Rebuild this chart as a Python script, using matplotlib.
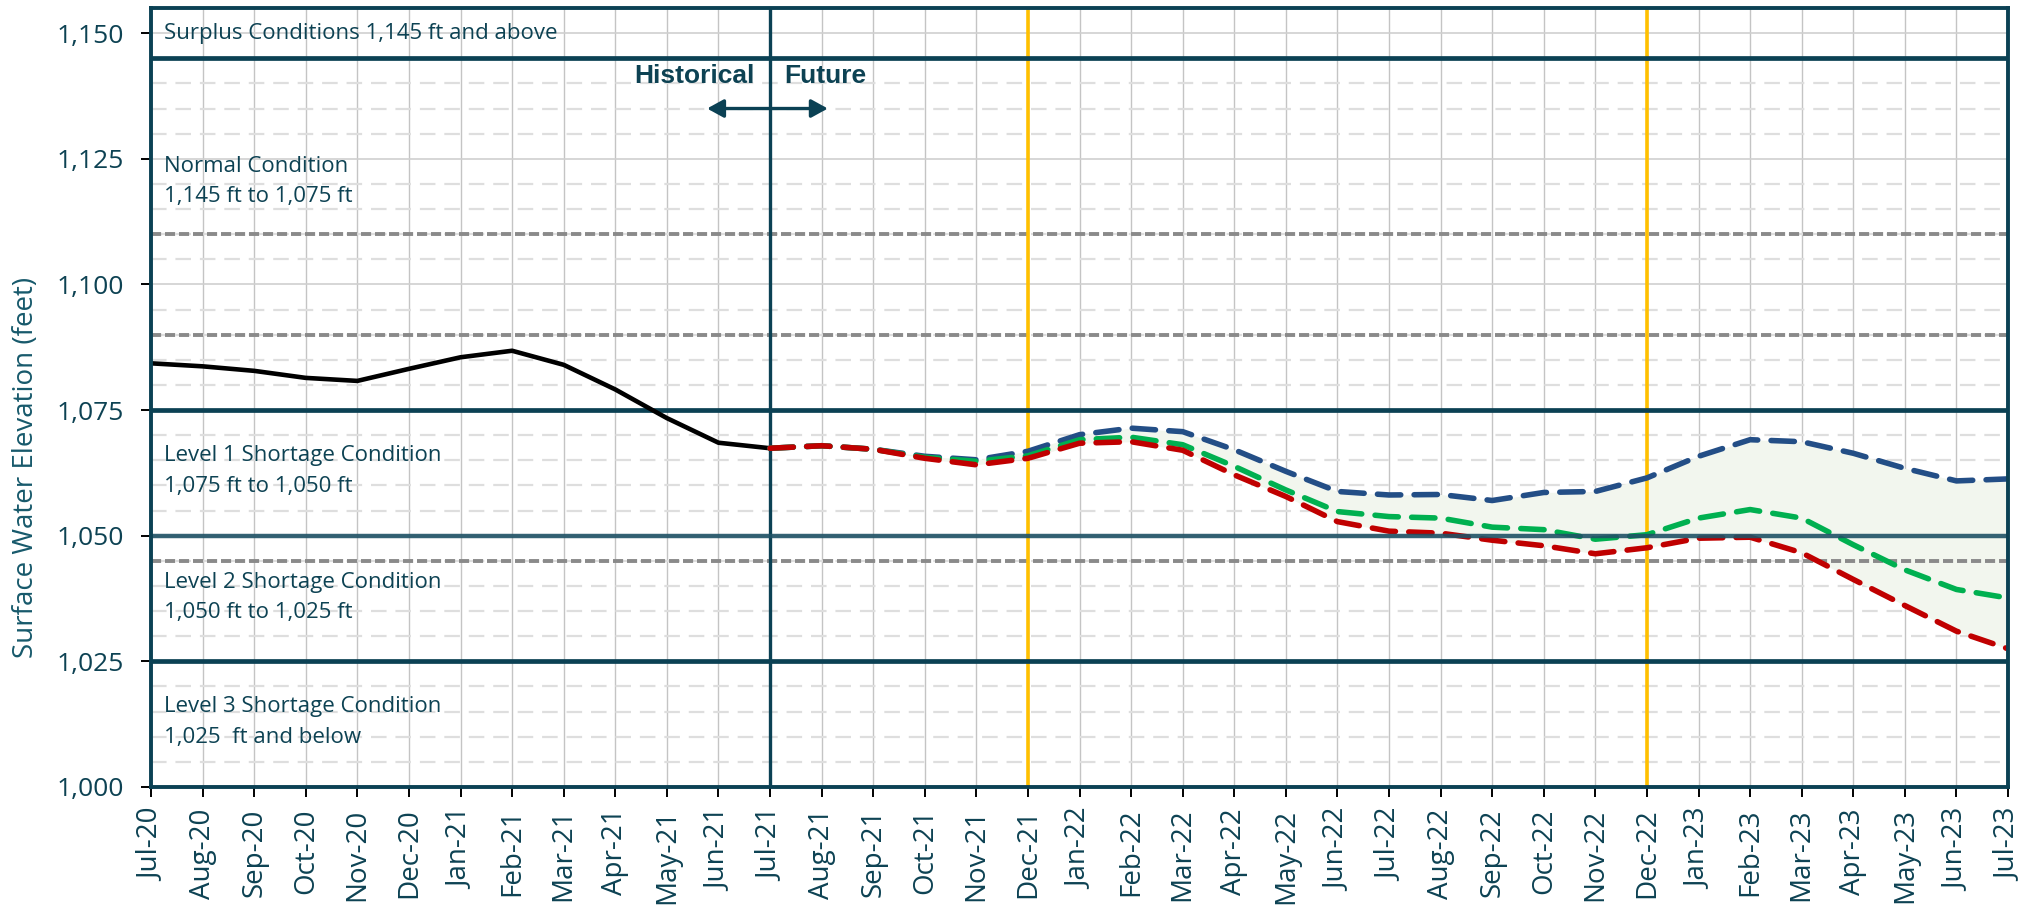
import pandas as pd
import matplotlib
matplotlib.use("Agg")
import matplotlib.pyplot as plt

# month labels Jul-20 .. Jul-23
months = list(pd.date_range("2020-07-01", periods=37, freq="MS").strftime("%b-%y"))

# historical end-of-month elevation (Jul-20 .. Jul-21)
historical = [1084.3, 1083.7, 1082.8, 1081.4, 1080.8, 1083.2, 1085.5, 1086.8,
              1084.0, 1079.1, 1073.4, 1068.5, 1067.4]

# projections (Jul-21 .. Jul-23)
min_probable = [1067.4, 1067.9, 1067.2, 1065.4, 1064.1, 1065.4, 1068.4, 1068.7,
                1067.0, 1062.1, 1057.8, 1052.8, 1050.9, 1050.5, 1049.1, 1048.0,
                1046.4, 1047.6, 1049.5, 1049.7, 1046.6, 1041.3, 1036.1, 1031.0,
                1027.5]
most_probable = [1067.4, 1067.9, 1067.2, 1065.6, 1064.8, 1065.9, 1069.1, 1069.6,
                 1068.1, 1063.8, 1059.1, 1054.8, 1053.8, 1053.5, 1051.7, 1051.2,
                 1049.3, 1050.2, 1053.5, 1055.2, 1053.5, 1048.2, 1043.2, 1039.3,
                 1037.6]
max_probable = [1067.4, 1067.9, 1067.2, 1065.8, 1065.1, 1066.8, 1070.1, 1071.4,
                1070.7, 1067.1, 1062.8, 1058.8, 1058.1, 1058.2, 1057.0, 1058.6,
                1058.8, 1061.5, 1065.8, 1069.1, 1068.7, 1066.4, 1063.4, 1060.9,
                1061.3]

condition_levels = [1145, 1075, 1050, 1025]
dashed_levels = [1110, 1090, 1045]
yellow_months = ["Dec-21", "Dec-22"]

condition_labels = [
    (1150, "Surplus Conditions 1,145 ft and above"),
    (1123.4, "Normal Condition"),
    (1117.4, "1,145 ft to 1,075 ft"),
    (1065.9, "Level 1 Shortage Condition"),
    (1059.7, "1,075 ft to 1,050 ft"),
    (1040.7, "Level 2 Shortage Condition"),
    (1034.7, "1,050 ft to 1,025 ft"),
    (1016.0, "Level 3 Shortage Condition"),
    (1009.8, "1,025  ft and below"),
]

DARK = "#0b4154"
TEXT = "#0d4253"

fig = plt.figure(figsize=(20.38, 9.10), dpi=100)
ax = fig.add_axes([0.0741, 0.1352, 0.9112, 0.856])

x_hist = list(range(len(historical)))
split = len(historical) - 1
x_fut = list(range(split, split + len(min_probable)))

# grid
for i in range(len(months)):
    ax.axvline(i, color="#c4c4c4", lw=1, zorder=0)
for v in range(1000, 1156, 5):
    if v % 25 == 0:
        ax.axhline(v, color="#cfcfcf", lw=1.2, zorder=0)
    else:
        ax.axhline(v, color="#dedede", lw=1.6, dashes=(7, 4), zorder=0)

# projection band
ax.fill_between(x_fut, min_probable, max_probable, color="#f2f6ee", zorder=1, lw=0)

for v in dashed_levels:
    ax.axhline(v, color="#8a8a8a", lw=2.8, dashes=(2.6, 1.0), zorder=2)

for m in yellow_months:
    ax.axvline(months.index(m), color="#ffc000", lw=2.6, zorder=2)

ax.plot(x_hist, historical, color="black", lw=3.3, zorder=4, solid_capstyle="round")
for vals, col in [(max_probable, "#234e86"), (most_probable, "#00b050"),
                  (min_probable, "#c00000")]:
    ax.plot(x_fut, vals, color=col, lw=4.0, dashes=(4.2, 2.4),
            dash_capstyle="round", zorder=4)

for v in condition_levels:
    if v == 1050:
        ax.axhline(v, color="#1f5266", lw=3.2, alpha=0.9, zorder=5)
    else:
        ax.axhline(v, color=DARK, lw=3.4, zorder=3)
ax.axvline(split, color=DARK, lw=2.4, zorder=3)

# condition text
for y, s in condition_labels:
    ax.text(0.25, y, s, fontsize=16, color=TEXT, family="Open Sans", va="center",
            ha="left", zorder=6)

ax.text(split - 0.3, 1141.5, "Historical", fontsize=19, fontweight="bold", color=TEXT,
        family="Liberation Sans", ha="right", va="center", zorder=6)
ax.text(split + 0.27, 1141.5, "Future", fontsize=19, fontweight="bold", color=TEXT,
        family="Liberation Sans", ha="left", va="center", zorder=6)
ax.annotate("", xy=(split - 1.22, 1135), xytext=(split + 1.12, 1135),
            arrowprops=dict(arrowstyle="<|-|>,head_length=1.0,head_width=0.55",
                            color=DARK, lw=2.4, shrinkA=0, shrinkB=0), zorder=6)

ax.set_xlim(0, len(months) - 1)
ax.set_ylim(1000, 1155)
ax.set_xticks(range(len(months)))
ax.set_xticklabels(months, rotation=90, fontsize=20, color=TEXT, family="Open Sans")
ax.set_yticks(range(1000, 1151, 25))
ax.set_yticklabels([f"{v:,}" for v in range(1000, 1151, 25)], fontsize=19,
                   color=TEXT, family="Open Sans")
ax.tick_params(axis="both", direction="out", length=7.5, width=1.4, color="black")
ax.tick_params(axis="y", pad=12)
ax.tick_params(axis="x", pad=8)
ax.set_ylabel("Surface Water Elevation (feet)", fontsize=20, color="#17596b",
              family="Open Sans")
ax.yaxis.set_label_coords(-0.0598, 0.41)

for side in ["left", "right", "top", "bottom"]:
    ax.spines[side].set_color(DARK)
    ax.spines[side].set_linewidth(2.8)
    ax.spines[side].set_zorder(7)

fig.savefig("out.png", dpi=100)
